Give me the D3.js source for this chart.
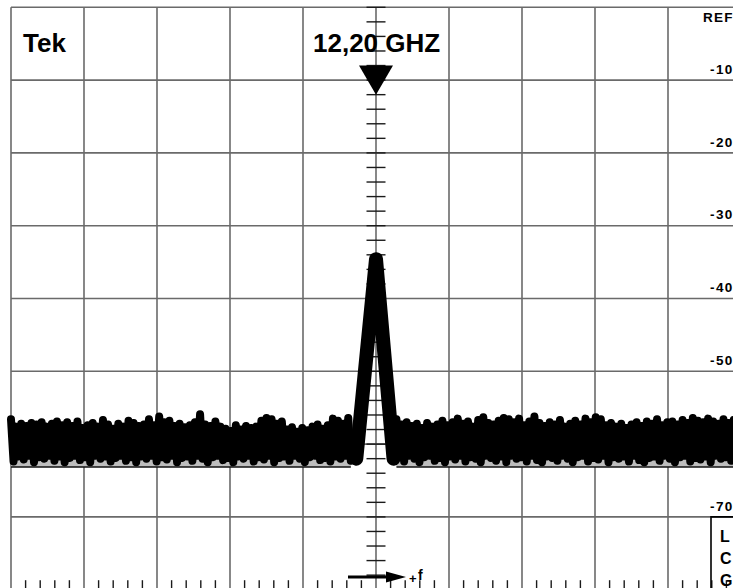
<!DOCTYPE html>
<html><head><meta charset="utf-8">
<script src="https://cdn.jsdelivr.net/npm/d3@7"></script>
<style>html,body{margin:0;padding:0;background:#fff;overflow:hidden}svg{display:block}text{font-family:"Liberation Sans",Arial,sans-serif;font-weight:bold;fill:#000}</style>
</head><body>
<script>
// ---- data ----
const centerLabel = "12,20 GHZ";
const brandLabel = "Tek";
const refLabels = ["REF","-10","-20","-30","-40","-50","-60","-70"];
const levelTicks = [0,-10,-20,-30,-40,-50,-60,-70,-80];
const divTicks = [-5,-4,-3,-2,-1,0,1,2,3,4,5];
const boxLetters = ["L","C","G"];
const binStep = 0.07;
const leftStart = -5.0;
const rightStart = 0.28;
const noiseBase = -63.15;
const leftTops = [-56.6,-57.6,-57.2,-57.5,-57.1,-57.3,-57.0,-57.6,-57.2,-56.9,
 -57.4,-57.0,-57.5,-56.9,-57.8,-57.4,-57.1,-57.6,-56.7,-57.3,
 -57.9,-57.2,-57.6,-56.8,-57.1,-57.5,-57.3,-56.6,-57.4,-56.2,
 -57.0,-56.8,-57.5,-57.2,-57.7,-57.4,-57.0,-55.9,-57.3,-57.5,
 -56.9,-57.6,-57.9,-58.2,-57.4,-58.0,-57.5,-57.8,-57.6,-56.8,
 -56.4,-56.6,-57.2,-56.9,-58.0,-57.7,-58.3,-57.8,-58.1,-57.6,
 -57.3,-57.9,-57.4,-56.5,-56.8,-57.2,-56.4];
const leftBottoms = [-62.4,-61.7,-62.1,-61.6,-62.5,-61.8,-62.0,-61.6,-62.3,-61.7,
 -62.5,-61.9,-61.6,-62.2,-61.8,-62.5,-61.6,-62.0,-61.7,-62.4,
 -61.9,-61.6,-62.3,-61.8,-62.5,-61.7,-62.0,-61.6,-62.4,-61.8,
 -62.1,-61.6,-62.5,-61.9,-61.7,-62.3,-61.6,-62.0,-62.5,-61.8,
 -61.6,-62.2,-61.9,-62.5,-61.7,-62.0,-61.6,-62.4,-61.8,-62.1,
 -61.6,-62.5,-61.9,-61.7,-62.3,-61.6,-62.0,-62.5,-61.8,-61.6,
 -62.2,-61.9,-62.4,-61.7,-62.0,-61.6,-62.3];
const rightTops = [-56.6,-57.3,-57.0,-57.5,-57.2,-57.8,-57.1,-57.6,-57.3,-56.8,
 -57.4,-57.0,-56.5,-57.2,-56.9,-57.6,-56.7,-56.3,-57.1,-57.3,
 -56.8,-56.4,-56.6,-57.0,-56.5,-57.4,-56.9,-56.2,-57.1,-57.5,
 -57.0,-57.3,-56.7,-57.6,-57.2,-56.8,-57.3,-56.5,-57.0,-56.3,
 -56.6,-57.4,-57.1,-57.6,-57.2,-57.8,-57.3,-57.0,-57.5,-56.9,
 -57.2,-56.6,-57.4,-57.0,-56.9,-57.3,-56.7,-57.1,-56.4,-56.8,
 -57.0,-56.5,-56.9,-57.2,-56.6,-57.1,-56.7,-56.9];
const rightBottoms = [-61.7,-62.4,-61.6,-62.0,-62.5,-61.8,-61.6,-62.3,-61.9,-62.5,
 -61.7,-62.1,-61.6,-62.4,-61.8,-62.0,-62.5,-61.6,-61.9,-62.3,
 -61.7,-62.5,-61.6,-62.0,-61.8,-62.4,-61.6,-62.2,-62.5,-61.7,
 -61.9,-62.3,-61.6,-62.0,-62.5,-61.8,-61.6,-62.4,-61.9,-62.1,
 -61.6,-62.5,-61.8,-62.0,-61.7,-62.4,-61.6,-62.2,-62.5,-61.9,
 -61.7,-62.3,-61.6,-62.0,-62.5,-61.8,-61.6,-62.4,-61.9,-62.1,
 -61.7,-62.5,-61.6,-62.0,-61.8,-62.3,-61.6,-62.2];
const peakFreq = [-0.27, 0, 0.24];
const peakLevel = [-62.0, -34.6, -62.0];

// ---- drawing ----
const W = 733, H = 588;
const x = d3.scaleLinear().domain([-5,5]).range([11,741]);
const y = d3.scaleLinear().domain([0,-80]).range([7.3,589.7]);
const svg = d3.select("body").append("svg").attr("width",W).attr("height",H);
svg.append("rect").attr("width",W).attr("height",H).attr("fill","#fff");

const grid = svg.append("g").attr("stroke","#6a6a6a").attr("stroke-width",1.6);
grid.selectAll(".v").data(divTicks).join("line")
  .attr("x1",d=>x(d)).attr("x2",d=>x(d)).attr("y1",y(0)).attr("y2",y(-80));
grid.selectAll(".h").data(levelTicks).join("line")
  .attr("x1",x(-5)).attr("x2",x(5)).attr("y1",d=>y(d)).attr("y2",d=>y(d));

// minor ticks
const minorY = d3.range(0,41).map(i=>-i*2);
svg.append("g").attr("stroke","#1a1a1a").attr("stroke-width",1.4)
  .selectAll("line").data(minorY).join("line")
  .attr("x1",x(0)-9.5).attr("x2",x(0)+9.5).attr("y1",d=>y(d)).attr("y2",d=>y(d));
const minorX = d3.range(-25,26).filter(i=>i%5!==0).map(i=>i/5);
svg.append("g").attr("stroke","#1a1a1a").attr("stroke-width",1.4)
  .selectAll("line").data(minorX).join("line")
  .attr("x1",d=>x(d)).attr("x2",d=>x(d)).attr("y1",y(-80)-9.5).attr("y2",y(-80));

// right labels
svg.append("g").selectAll("text").data(refLabels).join("text")
  .attr("x",(d,i)=>i===0?703:710)
  .attr("y",(d,i)=>i===0?21.7:y(-10*i)-6.3)
  .attr("font-size",13.5).attr("letter-spacing",(d,i)=>i===0?"1.2px":"1.4px")
  .text(d=>d);

// noise series
function zig(tops,bots,start){
  const pts=[];
  tops.forEach((t,i)=>{ const f=start+i*binStep; pts.push([f,t]); pts.push([f+binStep/2,bots[i]]); });
  return pts;
}
const leftPts = zig(leftTops,leftBottoms,leftStart);
const rightPts = zig(rightTops,rightBottoms,rightStart);
const area = d3.area().x(d=>x(d[0])).y0(y(noiseBase)).y1(d=>y(d[1]));
const line = d3.line().x(d=>x(d[0])).y(d=>y(d[1]));
[leftPts,rightPts].forEach(p=>{
  svg.append("path").attr("d",area(p)).attr("fill","#bdbdbd");
  svg.append("line").attr("x1",x(p[0][0])).attr("x2",x(p[p.length-1][0]))
    .attr("y1",y(noiseBase)).attr("y2",y(noiseBase)).attr("stroke","#111").attr("stroke-width",1.6);
});
const tracePts = leftPts.concat(peakFreq.map((f,i)=>[f,peakLevel[i]]), rightPts);
svg.append("path").attr("d",line(tracePts)).attr("fill","none").attr("stroke","#000")
  .attr("stroke-width",8).attr("stroke-linejoin","round").attr("stroke-linecap","round");
svg.append("path").attr("d",line(peakFreq.map((f,i)=>[f,peakLevel[i]]))).attr("fill","none").attr("stroke","#000")
  .attr("stroke-width",14).attr("stroke-linejoin","round").attr("stroke-linecap","round");

// labels
svg.append("text").attr("x",23).attr("y",52.3).attr("font-size",26).text(brandLabel);
svg.append("text").attr("x",313).attr("y",52.3).attr("font-size",26).text(centerLabel);
// marker
svg.append("path").attr("d",`M${x(0)-17},${y(-8)} L${x(0)+17},${y(-8)} L${x(0)},${y(-12)} Z`).attr("fill","#000");

// frequency arrow
svg.append("line").attr("x1",348).attr("x2",392).attr("y1",577).attr("y2",577).attr("stroke","#000").attr("stroke-width",3.2);
svg.append("path").attr("d","M386,571.5 L406,577 L386,582.5 Z").attr("fill","#000");
svg.append("text").attr("x",409).attr("y",583).attr("font-size",13).attr("font-weight","normal").text("+");
svg.append("text").attr("x",418).attr("y",580).attr("font-size",14).attr("font-weight","normal").text("f");

// box
svg.append("path").attr("d",`M711,${H} L711,${y(-70)} L${W},${y(-70)}`).attr("fill","none").attr("stroke","#000").attr("stroke-width",1.6);
svg.append("g").selectAll("text").data(boxLetters).join("text")
  .attr("x",720).attr("y",(d,i)=>542+i*22).attr("font-size",16).text(d=>d);
</script>
</body></html>
